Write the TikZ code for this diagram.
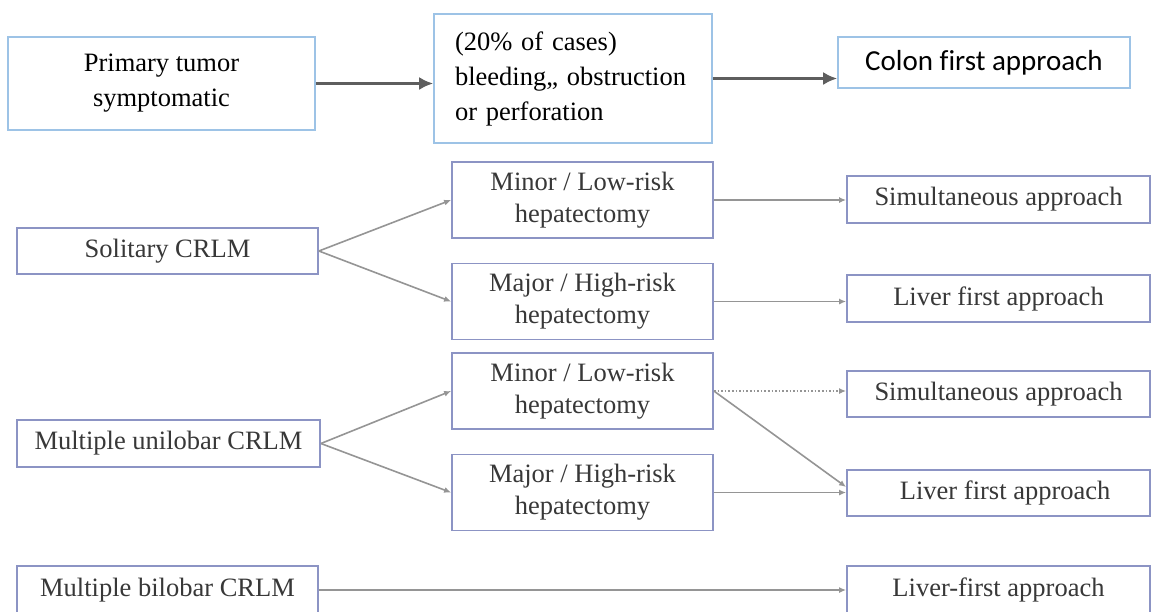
\documentclass[tikz,border=0pt]{standalone}
\usepackage{fontspec}
\usepackage{xcolor}
\usepackage{tikz}
\usetikzlibrary{arrows.meta,positioning,calc}
\setmainfont{Liberation Serif}
\newfontfamily\calibrifont[Ligatures=NoCommon]{Carlito}
\definecolor{SkyLine}{HTML}{9DC3E6}
\definecolor{SlateLine}{HTML}{8C94C4}
\definecolor{DarkArrow}{HTML}{5E5E5E}
\definecolor{SoftArrow}{HTML}{959595}
\definecolor{Ink}{HTML}{383838}
\begin{document}
\begin{tikzpicture}[x=1pt,y=-1pt,
    t/.style={draw=SkyLine,line width=1.6pt,inner sep=0pt,align=center,font=\fontsize{26.5}{35}\selectfont},
    l/.style={draw=SlateLine,line width=1.8pt,inner sep=0pt,align=center,text=Ink,minimum width=303pt,minimum height=47pt,font=\fontsize{26.5}{32}\selectfont},
    h/.style={l,minimum width=261pt,minimum height=76pt},
    a/.style={-{Latex[length=14pt,width=13pt]},line width=3pt,draw=DarkArrow},
    la/.style={-{Latex[length=7pt,width=6pt]},line width=1.6pt,draw=SoftArrow}]
    \fill[white] (0,0) rectangle (1157,611);
    \useasboundingbox (0,0) rectangle (1157,611);
    % top row
    \node[t,minimum width=307pt,minimum height=93pt] (tum) at (161.5,83.5) {Primary tumor\\symptomatic};
    \node[t,minimum width=278pt,minimum height=129pt,text width=236pt,align=left] (cas) at (573,78.5) {(20\% of cases)\\bleeding,, obstruction\\or perforation};
    \node[t,minimum width=292pt,minimum height=51pt,font=\calibrifont\fontsize{29}{35}\selectfont] (col) at (984,62.5) {\raisebox{-4pt}{Colon first approach}};
    \draw[a] (tum.east) -- (tum.east -| cas.west); \draw[a] (cas.east) -- (cas.east -| col.west);
    % lower rows
    \node[l,minimum width=301pt,minimum height=46pt] (sol) at (167.5,251) {Solitary CRLM};
    \node[h] (mn1) at (582.5,200) {Minor / Low-risk\\hepatectomy};
    \node[h] (mj1) at (582.5,301.5) {Major / High-risk\\hepatectomy};
    \node[l] (sim1) at (998.5,199.5) {Simultaneous approach};
    \node[l] (lv1) at (998.5,298.5) {Liver first approach};
    \node[l] (uni) at (168.5,443.5) {Multiple unilobar CRLM};
    \node[h] (mn2) at (582.5,391) {Minor / Low-risk\\hepatectomy};
    \node[h] (mj2) at (582.5,492.5) {Major / High-risk\\hepatectomy};
    \node[l,minimum height=46pt] (sim2) at (998.5,394) {Simultaneous approach};
    \node[l,minimum height=46pt] (lv2) at (998.5,493) {\ \ Liver first approach};
    \node[l,minimum width=301pt,minimum height=48pt] (bil) at (167.5,590) {Multiple bilobar CRLM};
    \node[l,minimum height=48pt] (lf) at (998.5,590) {Liver-first approach};
    \draw[la] (sol.east) -- (mn1.west); \draw[la] (sol.east) -- (mj1.west);
    \draw[la] (mn1.east) -- (mn1.east -| sim1.west); \draw[la] (mj1.east) -- (mj1.east -| lv1.west);
    \draw[la] (uni.east) -- (mn2.west); \draw[la] (uni.east) -- (mj2.west);
    \draw[la,dotted] (mn2.east) -- (mn2.east -| sim2.west);
    \draw[la] (mn2.east) -- ([yshift=6pt]lv2.west); \draw[la] (mj2.east) -- (mj2.east -| lv2.west);
    \draw[la] (bil.east) -- (bil.east -| lf.west);
\end{tikzpicture}
\end{document}
